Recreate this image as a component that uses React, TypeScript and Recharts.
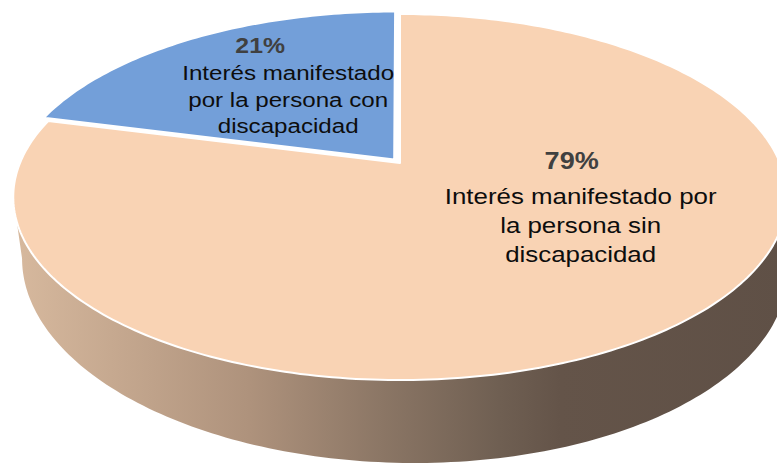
import React from "react";
import { PieChart, Pie } from "recharts";

// ---- data ----
const CATEGORIES = [
  "Interés manifestado por la persona con discapacidad",
  "Interés manifestado por la persona sin discapacidad",
];
const VALUES = [21, 79];
const LABEL_LINES = [
  ["Interés manifestado", "por la persona con", "discapacidad"],
  ["Interés manifestado por", "la persona sin", "discapacidad"],
];
const COLORS = ["#739FD9", "#F9D3B4"];

const data = CATEGORIES.map((name, i) => ({ name, value: VALUES[i], fill: COLORS[i] }));

// ---- 3D projection settings ----
const TILT = 0.465;
const PERSP = 0.186;
const DEPTH = 0.17;
const DEPTH_POW = 1.21;
const DEPTH_SKEW = 0.016;
const BOTTOM_SHIFT = 0.013;
const BOTTOM_SHRINK = 0.99;
const EXPLODE = 0.025;
const FONT = "'Liberation Sans', Arial, sans-serif";
const SX = 1.15;

const rad = (d: number) => (d * Math.PI) / 180;

function project(cx: number, cy: number, R: number, u: number, w: number) {
  const s = 1 / (1 + PERSP * w);
  return [cx + R * u * s, cy - R * TILT * w * s, s, u];
}

function explodeFor(name: string, mid: number) {
  const d = name === CATEGORIES[0] ? EXPLODE : 0;
  return [d * Math.cos(rad(mid)), d * Math.sin(rad(mid))];
}

const Slice3D = (props: any) => {
  const { cx, cy, outerRadius: R, startAngle, endAngle, fill, payload } = props;
  const a0 = Math.min(startAngle, endAngle);
  const a1 = Math.max(startAngle, endAngle);
  const mid = (a0 + a1) / 2;
  const name = payload?.name ?? props.name;
  const [du, dw] = explodeFor(name, mid);

  const angles: number[] = [];
  for (let a = a0; a < a1; a += 1) angles.push(a);
  angles.push(a1);

  const v = project(cx, cy, R, du, dw);
  let top = `M${v[0]},${v[1]}`;
  angles.forEach((a) => {
    const p = project(cx, cy, R, Math.cos(rad(a)) + du, Math.sin(rad(a)) + dw);
    top += ` L${p[0]},${p[1]}`;
  });
  top += " Z";

  // visible side (front-facing rim)
  const asinK = (Math.asin(PERSP) * 180) / Math.PI;
  const sides: string[] = [];
  for (let n = -1; n <= 1; n++) {
    const f0 = 180 + asinK + 360 * n;
    const f1 = 360 - asinK + 360 * n;
    const s0 = Math.max(a0, f0);
    const s1 = Math.min(a1, f1);
    if (s1 > s0) {
      const ang: number[] = [];
      for (let a = s0; a < s1; a += 1) ang.push(a);
      ang.push(s1);
      const topPts = ang.map((a) => project(cx, cy, R, Math.cos(rad(a)) + du, Math.sin(rad(a)) + dw));
      const botPts = topPts.map((p) => [
        cx + R * BOTTOM_SHIFT + (p[0] - cx) * BOTTOM_SHRINK,
        p[1] + R * (DEPTH * Math.pow(p[2], DEPTH_POW) + DEPTH_SKEW * p[3]),
      ]);
      let d = `M${topPts[0][0]},${topPts[0][1]}`;
      topPts.forEach((p) => (d += ` L${p[0]},${p[1]}`));
      for (let i = botPts.length - 1; i >= 0; i--) d += ` L${botPts[i][0]},${botPts[i][1]}`;
      d += " Z";
      sides.push(d);
    }
  }
  const halfW = R / Math.sqrt(1 - PERSP * PERSP);
  const gid = `sideGrad-${Math.round(a0)}`;
  return (
    <g>
      <defs>
        <linearGradient id={gid} gradientUnits="userSpaceOnUse" x1={cx - halfW} y1={0} x2={cx + halfW} y2={0}>
          <stop offset="0" stopColor="#d7b99e" />
          <stop offset="0.306" stopColor="#ae927c" />
          <stop offset="0.478" stopColor="#8b7665" />
          <stop offset="0.629" stopColor="#6f5f52" />
          <stop offset="0.707" stopColor="#645449" />
          <stop offset="1" stopColor="#5f5046" />
        </linearGradient>
      </defs>
      {sides.map((d, i) => (
        <path key={i} d={d} fill={`url(#${gid})`} stroke="none" />
      ))}
      <path d={top} fill={fill} stroke="#ffffff" strokeWidth={2} strokeLinejoin="round" />
    </g>
  );
};

const LABEL_SPOT = [
  { r: 0.542, angle: 124.2 },
  { r: 0.515, angle: 331.8 },
];
const LABEL_STYLE = [
  { fs: 21, pfs: 22, lh: 26.7, pdy: -33.7, pdx: -28, l0: -7 },
  { fs: 22.5, pfs: 24, lh: 29, pdy: -38.7, pdx: -9, l0: -4 },
];

const renderLabel = (props: any) => {
  const { cx, cy, outerRadius: R, index, percent, startAngle, endAngle, payload } = props;
  const spot = LABEL_SPOT[index];
  const st = LABEL_STYLE[index];
  const mid = (Math.min(startAngle, endAngle) + Math.max(startAngle, endAngle)) / 2;
  const [du, dw] = explodeFor(payload?.name ?? props.name, mid);
  const p = project(
    cx,
    cy,
    R,
    spot.r * Math.cos(rad(spot.angle)) + du,
    spot.r * Math.sin(rad(spot.angle)) + dw
  );
  const x = p[0];
  const y = p[1];
  return (
    <g key={`lbl-${index}`}>
      <text
        transform={`translate(${x + st.pdx},${y + st.pdy}) scale(${SX * 0.98},1)`}
        textAnchor="middle"
        fontFamily={FONT}
        fontWeight="bold"
        fontSize={st.pfs}
        fill="#404040"
      >
        {`${Math.round(percent * 100)}%`}
      </text>
      {LABEL_LINES[index].map((line, i) => (
        <text
          key={i}
          transform={`translate(${x},${y + st.l0 + i * st.lh}) scale(${SX},1)`}
          textAnchor="middle"
          fontFamily={FONT}
          fontSize={st.fs}
          fill="#0d0d0d"
        >
          {line}
        </text>
      ))}
    </g>
  );
};

export default function App() {
  return (
    <div style={{ width: 777, height: 466, background: "#ffffff" }}>
      <style>{"body{margin:0}"}</style>
      <PieChart width={777} height={466} margin={{ top: 0, right: 0, bottom: 0, left: 0 }}>
        <Pie
          data={data}
          dataKey="value"
          nameKey="name"
          cx={400}
          cy={163}
          innerRadius={0}
          outerRadius={380}
          startAngle={90}
          endAngle={450}
          stroke="none"
          isAnimationActive={false}
          shape={Slice3D}
          inactiveShape={Slice3D}
          activeShape={Slice3D}
          label={renderLabel}
          labelLine={false}
        />
      </PieChart>
    </div>
  );
}
